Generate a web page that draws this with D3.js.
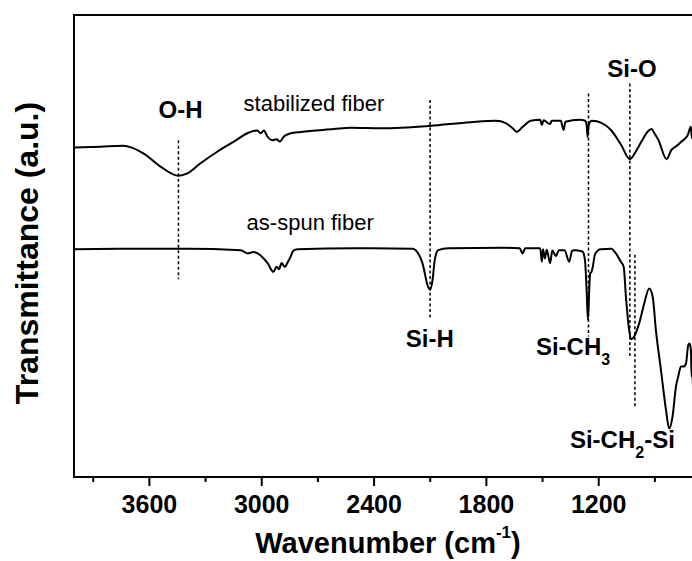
<!DOCTYPE html>
<html><head><meta charset="utf-8">
<script src="https://cdn.jsdelivr.net/npm/d3@7/dist/d3.min.js"></script>
<style>body{margin:0;background:#fff;} svg{display:block;background:#fff;}</style>
</head><body><svg id="chart" width="692" height="561"></svg>
<script>
// ---- data (wavenumber in cm^-1, transmittance in arbitrary units 0-100) ----
const stabilizedWavenumber = [4000,3858,3740,3700,3628,3538,3442,3395,3324,3235,3146,3074,3057,3021,3003,2986,2967,2941,2918,2900,2879,2843,2789,2611,2522,2362,2100,1881,1747,1694,1660,1635,1603,1560,1510,1501,1492,1457,1448,1400,1385,1375,1300,1270,1262,1257,1251,1235,1180,1132,1078,1031,1000,969,930,915,900,878,835,809,780,755,722,705,700,690,680];
const stabilizedValue = [71.3,71.5,71.7,71.4,70.0,67.2,65.2,65.7,67.9,70.4,72.6,74.4,74.7,75.0,74.4,75.0,73.7,72.9,73.1,72.6,73.7,74.4,74.7,75.3,75.6,75.5,76.0,76.8,77.1,76.6,75.6,74.7,75.8,77.1,77.3,76.2,77.2,76.4,77.1,77.1,75.1,76.9,77.3,77.1,76.2,73.6,76.2,77.1,76.6,75.1,71.9,68.8,70.4,72.6,75.0,75.3,74.4,72.9,68.8,70.8,71.7,72.6,74.0,75.8,73.4,74.7,74.5];

const asSpunWavenumber = [4000,3700,3400,3109,3073,3041,3019,2987,2966,2935,2918,2905,2891,2875,2857,2843,2828,2807,2500,2190,2175,2139,2109,2098,2085,2073,2055,2000,1700,1620,1604,1590,1510,1501,1495,1485,1475,1457,1445,1426,1410,1380,1355,1340,1329,1284,1271,1262,1255,1248,1243,1236,1229,1218,1200,1186,1130,1106,1079,1064,1052,1035,1022,1008,981,954,928,909,892,865,838,821,803,785,773,758,744,731,719,712,705,701,697,693,685];
const asSpunValue = [49.3,49.4,49.4,49.1,48.4,48.7,48.4,47.3,46.3,44.4,45.5,45.0,46.3,45.5,46.6,47.7,49.0,49.3,49.5,49.4,49.1,46.3,41.2,40.5,42.6,47.0,49.1,49.5,49.6,49.5,48.4,49.5,49.5,46.6,49.3,47.3,49.2,46.3,49.0,47.8,49.1,49.1,46.6,48.9,49.1,48.8,47.0,40.5,34.0,40.5,44.1,44.4,45.5,48.1,49.1,49.3,49.4,48.4,46.6,45.5,39.0,31.8,29.8,30.4,33.3,37.6,40.8,39.0,31.8,23.2,14.5,10.5,13.1,19.5,21.7,23.9,23.9,24.6,28.6,28.9,27.5,21.7,23.5,18.5,16];

const majorTicks = [3600,3000,2400,1800,1200];
const minorTicks = [3900,3300,2700,2100,1500,900];

// marker lines: wavenumber, top value, bottom value
const markerWavenumber = [3442,2098,1252,1031,1004];
const markerTop =        [72.9,81.6,83.0,85.2,48.1];
const markerBottom =     [42.8,34.0,30.4,26.0,14.9];

// band labels: [main, subscript, tail], wavenumber, value, anchor
const bandMain = ["O-H","Si-O","Si-H","Si-CH","Si-CH"];
const bandSub  = ["","","","3","2"];
const bandTail = ["","","","","-Si"];
const bandWavenumber = [3431,1020,2100,1533,1351];
const bandValue = [77.7,86.5,28.1,26.4,6.2];
const bandAnchor = ["middle","middle","middle","start","start"];

const seriesNames = ["stabilized fiber","as-spun fiber"];
const seriesLabelWavenumber = [3094,3078];
const seriesLabelValue = [79.3,53.5];

// ---- layout ----
const pLeft = 74, pRight = 748, pTop = 15, pBottom = 477;
const FONT = "'Liberation Sans', Arial, Helvetica, sans-serif";

const svg = d3.select("#chart");
const x = d3.scaleLinear().domain([4000, 400]).range([pLeft, pRight]);
const y = d3.scaleLinear().domain([0, 100]).range([pBottom, pTop]);

svg.append("defs").append("clipPath").attr("id","plotclip")
  .append("rect").attr("x",pLeft).attr("y",pTop).attr("width",pRight-pLeft).attr("height",pBottom-pTop);

// frame
svg.append("rect").attr("x",pLeft).attr("y",pTop).attr("width",pRight-pLeft).attr("height",pBottom-pTop)
  .attr("fill","none").attr("stroke","#000").attr("stroke-width",2);

// axes
const gMinor = svg.append("g").attr("transform",`translate(0,${pBottom})`)
  .call(d3.axisBottom(x).tickValues(minorTicks).tickSize(5).tickSizeOuter(0).tickFormat(""));
gMinor.select(".domain").remove();
gMinor.selectAll("line").attr("stroke","#000").attr("stroke-width",2);

const gMajor = svg.append("g").attr("transform",`translate(0,${pBottom})`)
  .call(d3.axisBottom(x).tickValues(majorTicks).tickSize(9).tickPadding(9).tickSizeOuter(0).tickFormat(d3.format("d")));
gMajor.select(".domain").remove();
gMajor.selectAll("line").attr("stroke","#000").attr("stroke-width",2);
gMajor.selectAll("text").attr("font-family",FONT).attr("font-weight","bold").attr("font-size",25).attr("fill","#000");

// axis titles
const xt = svg.append("text").attr("x",388).attr("y",553).attr("text-anchor","middle")
  .attr("font-family",FONT).attr("font-weight","bold").attr("font-size",29).attr("fill","#000");
xt.append("tspan").text("Wavenumber (cm");
xt.append("tspan").attr("dy",-15).attr("font-size",17).text("-1");
xt.append("tspan").attr("dy",15).text(")");

svg.append("text").attr("transform","translate(38,253) rotate(-90)").attr("text-anchor","middle")
  .attr("font-family",FONT).attr("font-weight","bold").attr("font-size",32).attr("fill","#000")
  .text("Transmittance (a.u.)");

// spectra
const plot = svg.append("g").attr("clip-path","url(#plotclip)");
const line = d3.line().x(d=>x(d[0])).y(d=>y(d[1])).curve(d3.curveMonotoneX);
const stab = stabilizedWavenumber.map((w,i)=>[w,stabilizedValue[i]]);
const spun = asSpunWavenumber.map((w,i)=>[w,asSpunValue[i]]);
[stab, spun].forEach(s=>{
  plot.append("path").attr("d",line(s)).attr("fill","none").attr("stroke","#000")
    .attr("stroke-width",2).attr("stroke-linejoin","round");
});

// marker lines
markerWavenumber.forEach((w,i)=>{
  plot.append("line").attr("x1",x(w)).attr("x2",x(w)).attr("y1",y(markerTop[i])).attr("y2",y(markerBottom[i]))
    .attr("stroke","#000").attr("stroke-width",1.5).attr("stroke-dasharray","3,2.5");
});

// band labels
bandMain.forEach((t,i)=>{
  const tx = svg.append("text").attr("x",x(bandWavenumber[i])).attr("y",y(bandValue[i]))
    .attr("text-anchor",bandAnchor[i]).attr("font-family",FONT).attr("font-weight","bold")
    .attr("font-size",24).attr("fill","#000");
  tx.append("tspan").text(t);
  if (bandSub[i]) tx.append("tspan").attr("dy",10).attr("font-size",16).text(bandSub[i]);
  if (bandTail[i]) tx.append("tspan").attr("dy",-10).text(bandTail[i]);
});

// series labels
seriesNames.forEach((t,i)=>{
  svg.append("text").attr("x",x(seriesLabelWavenumber[i])).attr("y",y(seriesLabelValue[i]))
    .attr("font-family",FONT).attr("font-size",22).attr("fill","#000").text(t);
});
</script></body></html>
